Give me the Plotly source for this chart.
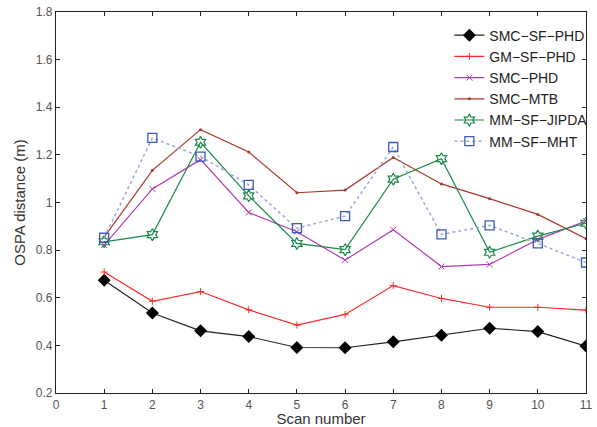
import plotly.graph_objects as go

scan = [1, 2, 3, 4, 5, 6, 7, 8, 9, 10, 11]
smc_sf_phd = [0.673, 0.536, 0.461, 0.437, 0.391, 0.390, 0.415, 0.442, 0.472, 0.458, 0.397]
gm_sf_phd = [0.708, 0.585, 0.626, 0.549, 0.485, 0.530, 0.651, 0.597, 0.560, 0.560, 0.548]
smc_phd = [0.821, 1.057, 1.180, 0.958, 0.877, 0.758, 0.886, 0.731, 0.740, 0.845, 0.922]
smc_mtb = [0.855, 1.135, 1.306, 1.212, 1.041, 1.052, 1.189, 1.078, 1.016, 0.950, 0.848]
mm_sf_jipda = [0.835, 0.865, 1.253, 1.028, 0.828, 0.802, 1.098, 1.184, 0.791, 0.859, 0.913]
mm_sf_mht = [0.852, 1.271, 1.193, 1.074, 0.892, 0.943, 1.233, 0.866, 0.904, 0.828, 0.748]

x_ticks = list(range(0, 12))
y_ticks = [0.2, 0.4, 0.6, 0.8, 1.0, 1.2, 1.4, 1.6, 1.8]
y_ticktext = ["0.2", "0.4", "0.6", "0.8", "1", "1.2", "1.4", "1.6", "1.8"]

fig = go.Figure()
fig.add_trace(go.Scatter(x=scan, y=smc_sf_phd, name="SMC−SF−PHD", mode="lines+markers",
                         line=dict(color="#222222", width=1.2),
                         marker=dict(symbol="diamond", size=10, color="black")))
fig.add_trace(go.Scatter(x=scan, y=gm_sf_phd, name="GM−SF−PHD", mode="lines+markers",
                         line=dict(color="#ff2a2a", width=1.2),
                         marker=dict(symbol="cross-thin", size=5, line=dict(color="#ff2a2a", width=1))))
fig.add_trace(go.Scatter(x=scan, y=smc_phd, name="SMC−PHD", mode="lines+markers",
                         line=dict(color="#b03cb0", width=1.2),
                         marker=dict(symbol="x-thin", size=6, line=dict(color="#b03cb0", width=1))))
fig.add_trace(go.Scatter(x=scan, y=smc_mtb, name="SMC−MTB", mode="lines+markers",
                         line=dict(color="#a8382a", width=1.2),
                         marker=dict(symbol="circle", size=3, color="#a8382a")))
fig.add_trace(go.Scatter(x=scan, y=mm_sf_jipda, name="MM−SF−JIPDA", mode="lines+markers",
                         line=dict(color="#1a8a48", width=1.2),
                         marker=dict(symbol="hexagram-open", size=9, color="#1a8a48", line=dict(width=1.2))))
fig.add_trace(go.Scatter(x=scan, y=mm_sf_mht, name="MM−SF−MHT", mode="lines+markers",
                         line=dict(color="#9aa8d8", width=1.5, dash="dot"),
                         marker=dict(symbol="square-open", size=9, color="#3a5ab8", line=dict(width=1.3))))

axis_common = dict(showline=True, linecolor="#222222", linewidth=1.2, mirror="ticks", ticks="inside",
                   ticklen=4, tickcolor="#222222", showgrid=False, zeroline=False,
                   tickfont=dict(family="Liberation Sans, Arial", size=12, color="#555555"))

fig.update_layout(
    width=597, height=427,
    margin=dict(l=56, r=5, t=12, b=34),
    plot_bgcolor="white", paper_bgcolor="white",
    font=dict(family="Liberation Sans, Arial", color="#222222"),
    xaxis=dict(range=[0, 11.0001], tickvals=x_ticks, ticklabeloverflow="allow",
               title=dict(text="Scan number", font=dict(size=15, color="#333333"), standoff=0),
               **axis_common),
    yaxis=dict(range=[0.2, 1.8], tickvals=y_ticks, ticktext=y_ticktext,
               title=dict(text="OSPA distance (m)", font=dict(size=15, color="#333333"), standoff=6),
               **axis_common),
    legend=dict(x=1.012, y=0.98, xanchor="right", yanchor="top", bgcolor="rgba(255,255,255,0)",
                borderwidth=0, font=dict(size=14, color="#222222"), itemwidth=30,
                tracegroupgap=0),
    showlegend=True,
)

fig.write_html("out.html")
